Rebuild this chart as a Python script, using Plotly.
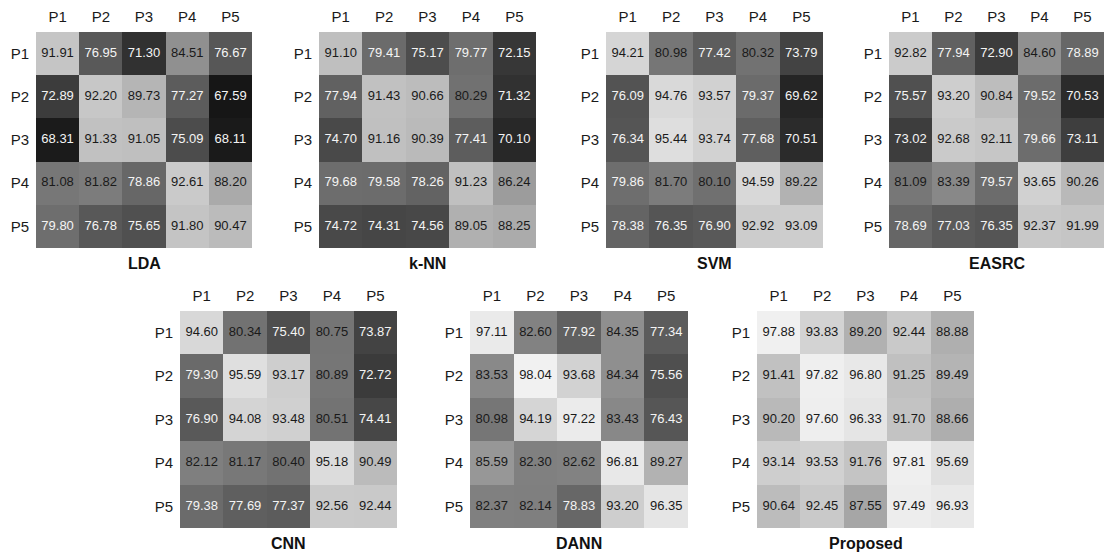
import plotly.graph_objects as go

# Cross-session accuracy matrices (%) for each method: rows = source, cols = target
labels = ["P1", "P2", "P3", "P4", "P5"]
methods = ["LDA", "k-NN", "SVM", "EASRC", "CNN", "DANN", "Proposed"]

lda = [
    [91.91, 76.95, 71.30, 84.51, 76.67],
    [72.89, 92.20, 89.73, 77.27, 67.59],
    [68.31, 91.33, 91.05, 75.09, 68.11],
    [81.08, 81.82, 78.86, 92.61, 88.20],
    [79.80, 76.78, 75.65, 91.80, 90.47],
]
knn = [
    [91.10, 79.41, 75.17, 79.77, 72.15],
    [77.94, 91.43, 90.66, 80.29, 71.32],
    [74.70, 91.16, 90.39, 77.41, 70.10],
    [79.68, 79.58, 78.26, 91.23, 86.24],
    [74.72, 74.31, 74.56, 89.05, 88.25],
]
svm = [
    [94.21, 80.98, 77.42, 80.32, 73.79],
    [76.09, 94.76, 93.57, 79.37, 69.62],
    [76.34, 95.44, 93.74, 77.68, 70.51],
    [79.86, 81.70, 80.10, 94.59, 89.22],
    [78.38, 76.35, 76.90, 92.92, 93.09],
]
easrc = [
    [92.82, 77.94, 72.90, 84.60, 78.89],
    [75.57, 93.20, 90.84, 79.52, 70.53],
    [73.02, 92.68, 92.11, 79.66, 73.11],
    [81.09, 83.39, 79.57, 93.65, 90.26],
    [78.69, 77.03, 76.35, 92.37, 91.99],
]
cnn = [
    [94.60, 80.34, 75.40, 80.75, 73.87],
    [79.30, 95.59, 93.17, 80.89, 72.72],
    [76.90, 94.08, 93.48, 80.51, 74.41],
    [82.12, 81.17, 80.40, 95.18, 90.49],
    [79.38, 77.69, 77.37, 92.56, 92.44],
]
dann = [
    [97.11, 82.60, 77.92, 84.35, 77.34],
    [83.53, 98.04, 93.68, 84.34, 75.56],
    [80.98, 94.19, 97.22, 83.43, 76.43],
    [85.59, 82.30, 82.62, 96.81, 89.27],
    [82.37, 82.14, 78.83, 93.20, 96.35],
]
proposed = [
    [97.88, 93.83, 89.20, 92.44, 88.88],
    [91.41, 97.82, 96.80, 91.25, 89.49],
    [90.20, 97.60, 96.33, 91.70, 88.66],
    [93.14, 93.53, 91.76, 97.81, 95.69],
    [90.64, 92.45, 87.55, 97.49, 96.93],
]
matrices = [lda, knn, svm, easrc, cnn, dann, proposed]

W, H = 1104, 557
# Panel boxes in pixels: (left, right, top, bottom)
boxes = [
    (36, 252, 32, 248),
    (319, 536, 32, 248),
    (606, 823, 32, 248),
    (889, 1104, 32, 248),
    (180, 397, 311, 528),
    (470, 688, 311, 528),
    (757, 974, 311, 528),
]

ZMIN, ZMAX = 64.5, 100.0
FONT = "Liberation Sans, Arial, sans-serif"

fig = go.Figure()
layout = dict(
    width=W, height=H,
    margin=dict(l=0, r=0, t=0, b=0),
    paper_bgcolor="white", plot_bgcolor="white",
    showlegend=False,
    font=dict(family=FONT, color="#1a1a1a"),
)
annotations = []

for i, (name, mat, (x0, x1, y0, y1)) in enumerate(zip(methods, matrices, boxes), start=1):
    xa = "x" if i == 1 else f"x{i}"
    ya = "y" if i == 1 else f"y{i}"
    fig.add_trace(go.Heatmap(
        z=mat, x=labels, y=labels,
        colorscale=[[0, "#000000"], [1, "#ffffff"]],
        zmin=ZMIN, zmax=ZMAX, showscale=False,
        hoverinfo="skip", xaxis=xa, yaxis=ya,
    ))
    tx, ty, tt, tc = [], [], [], []
    for r, row in enumerate(mat):
        for c, v in enumerate(row):
            tx.append(labels[c])
            ty.append(labels[r])
            tt.append(f"{v:.2f}")
            tc.append("#f4f4f4" if v < 80 else "#1a1a1a")
    fig.add_trace(go.Scatter(
        x=tx, y=ty, text=tt, mode="text",
        textfont=dict(family=FONT, size=13, color=tc),
        hoverinfo="skip", xaxis=xa, yaxis=ya,
    ))
    xkey = "xaxis" if i == 1 else f"xaxis{i}"
    ykey = "yaxis" if i == 1 else f"yaxis{i}"
    layout[xkey] = dict(
        domain=[x0 / W, x1 / W], anchor=ya, side="top",
        type="category", categoryorder="array", categoryarray=labels,
        range=[-0.5, 4.5], showgrid=False, zeroline=False, showline=False,
        ticks="", tickfont=dict(size=15, family=FONT, color="#1a1a1a"),
        ticklabelstandoff=6, fixedrange=True,
    )
    layout[ykey] = dict(
        domain=[1 - y1 / H, 1 - y0 / H], anchor=xa,
        type="category", categoryorder="array", categoryarray=labels,
        range=[4.5, -0.5], showgrid=False, zeroline=False, showline=False,
        ticks="", tickfont=dict(size=15, family=FONT, color="#1a1a1a"),
        ticklabelstandoff=6, fixedrange=True,
    )
    annotations.append(dict(
        text=f"<b>{name}</b>", x=(x0 + x1) / 2 / W, y=1 - (y1 + 15) / H,
        xref="paper", yref="paper", xanchor="center", yanchor="middle",
        showarrow=False, font=dict(size=16, family=FONT, color="#111111"),
    ))

layout["annotations"] = annotations
fig.update_layout(**layout)
fig.write_html("out.html")
